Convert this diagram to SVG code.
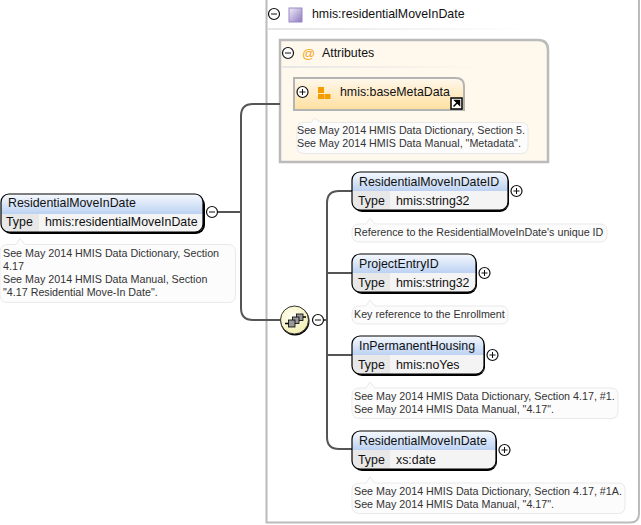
<svg xmlns="http://www.w3.org/2000/svg" width="641" height="525" viewBox="0 0 641 525">
<style>
text{font-family:"Liberation Sans",Arial,sans-serif;font-size:12.37px;fill:#000}
.t{font-size:12.37px;fill:#111}
.d{font-size:10.72px;fill:#333}
.doc{fill:#fcfcfc;stroke:#e9e9e9;stroke-width:1}
.c{fill:none;stroke:#555;stroke-width:2}
.tg{fill:#fff;stroke:#111;stroke-width:1.2}
.pm{stroke:#111;stroke-width:1;fill:none}
.sh{fill:#000}
</style>
<defs>
<linearGradient id="hd" x1="0" y1="0" x2="0" y2="1"><stop offset="0" stop-color="#f6f9fe"/><stop offset="1" stop-color="#bcd2f2"/></linearGradient>
<linearGradient id="ag" x1="0" y1="0" x2="0" y2="1"><stop offset="0" stop-color="#fff8ec"/><stop offset="1" stop-color="#ffdf9f"/></linearGradient>
<linearGradient id="sq" x1="0" y1="0" x2="1" y2="1"><stop offset="0" stop-color="#f2eef9"/><stop offset="1" stop-color="#8c78c0"/></linearGradient>
<linearGradient id="ln" x1="0" y1="0" x2="1" y2="0"><stop offset="0" stop-color="#e6e6e6"/><stop offset="1" stop-color="#e6e6e6" stop-opacity="0"/></linearGradient>
<radialGradient id="seq" cx=".4" cy=".35" r=".7"><stop offset="0" stop-color="#fffef2"/><stop offset="1" stop-color="#f4eeb0"/></radialGradient>
<g id="minus"><circle r="5.5" class="tg"/><path d="M-3 0H3" class="pm"/></g>
<g id="plus"><circle r="5.5" class="tg"/><path d="M-3 0H3M0-3V3" class="pm"/></g>
</defs>

<g id="complex-type">
<path d="M266.500 0V522.500H630Q639 522.500 639 513.500V0" fill="#fff" stroke="#bbb" stroke-width="2"/>
<use href="#minus" x="274" y="14"/>
<rect x="289" y="8" width="13" height="14" fill="url(#sq)" stroke="#9a88c8"/>
<text x="312" y="18" class="t">hmis:residentialMoveInDate</text>
<rect x="268" y="28" width="260" height="2" fill="url(#ln)"/>
</g>

<g id="attributes">
<path d="M280 40H538Q548 40 548 50V162H280Z" fill="#fff8ec" stroke="#bbb" stroke-width="2.500"/>
<use href="#minus" x="288" y="53"/>
<text x="302" y="58" style="font-size:13px;fill:#f5a623">@</text>
<text x="322" y="57" class="t">Attributes</text>
<rect x="282" y="66" width="200" height="2" fill="url(#ln)"/>
</g>

<g id="baseMetaData">
<path d="M294 78H456Q464 78 464 86V110H294Z" fill="url(#ag)" stroke="#b4b4b4" stroke-width="2"/>
<use href="#plus" x="302.500" y="92"/>
<path d="M318 87h6v6h-6zM318 94h6v5h-6zM324.500 94h6v5h-6z" fill="#f59c00"/>
<text x="340" y="96" class="t">hmis:baseMetaData</text>
<rect x="451" y="98" width="11" height="11" fill="#fff" stroke="#000" stroke-width="1.500"/>
<path d="M453.500 106.500L459 101M455 100.500h4.500v4.500z" stroke="#000" stroke-width="1.500" fill="#000"/>
<path d="M304.500 122.500H311L314.500 118L321 122.500H521Q528 122.500 528 129V147Q528 153.500 521 153.500H304.500Q297 153.500 297 147V129Q297 122.500 304.500 122.500Z" class="doc"/>
<text x="297" y="134" class="d">See May 2014 HMIS Data Dictionary, Section 5.</text>
<text x="297" y="147" class="d">See May 2014 HMIS Data Manual, "Metadata".</text>
</g>

<g id="connectors">
<path d="M218 212H241M280 104H253Q241 104 241 116V308Q241 320 253 320H281" class="c"/>
<path d="M323 320H327M352 191H339Q327 191 327 203V437Q327 449 339 449H352M327 273H352M327 355H352" class="c"/>
</g>

<g id="ResidentialMoveInDate">
<rect x="2" y="196" width="203" height="38" rx="9" class="sh"/>
<path d="M9 194H195Q203 194 203 202V214H1V202Q1 194 9 194Z" fill="url(#hd)"/>
<path d="M1 214H39V232H9Q1 232 1 224Z" fill="#e8e8e8"/><path d="M39 214H203V224Q203 232 195 232H39Z" fill="#f4f4f4"/>
<rect x="1" y="194" width="202" height="38" rx="8" fill="none" stroke="#000" stroke-width="1.200"/>
<text x="8" y="207" class="t">ResidentialMoveInDate</text>
<text x="6" y="226" class="t">Type</text>
<text x="45" y="226" class="t">hmis:residentialMoveInDate</text>
<use href="#minus" x="212" y="212"/>
<path d="M8 244.500H16L20 238L25 244.500H228Q235.500 244.500 235.500 252V295Q235.500 302.500 228 302.500H8Q0 302.500 0 295V252Q0 244.500 8 244.500Z" class="doc"/>
<text x="3" y="257" class="d">See May 2014 HMIS Data Dictionary, Section</text>
<text x="3" y="270" class="d">4.17</text>
<text x="3" y="283" class="d">See May 2014 HMIS Data Manual, Section</text>
<text x="3" y="296" class="d">"4.17 Residential Move-In Date".</text>
</g>

<g id="sequence">
<circle cx="295" cy="321" r="14.500" fill="#000"/>
<circle cx="294.500" cy="320" r="14" fill="url(#seq)" stroke="#333" stroke-width="1"/>
<path d="M285 323.500H289M303 317H306" stroke="#000" stroke-width="1.500"/>
<rect x="296.500" y="314" width="6.500" height="6.500" fill="#999" stroke="#000" stroke-width=".8"/>
<rect x="292.500" y="317" width="6.500" height="6.500" fill="#999" stroke="#000" stroke-width=".8"/>
<rect x="288.500" y="320" width="6.500" height="7" fill="#999" stroke="#000" stroke-width=".8"/>
<use href="#minus" x="318" y="320"/>
</g>

<g id="ResidentialMoveInDateID">
<rect x="353" y="174" width="156" height="38" rx="9" class="sh"/>
<path d="M360 172H500Q508 172 508 180V191H352V180Q352 172 360 172Z" fill="url(#hd)"/>
<path d="M352 191H390V210H360Q352 210 352 202Z" fill="#e8e8e8"/><path d="M390 191H508V202Q508 210 500 210H390Z" fill="#f4f4f4"/>
<rect x="352" y="172" width="156" height="38" rx="8" fill="none" stroke="#000" stroke-width="1.200"/>
<text x="359" y="186" class="t">ResidentialMoveInDateID</text>
<text x="358" y="205" class="t">Type</text>
<text x="396" y="205" class="t">hmis:string32</text>
<use href="#plus" x="516.500" y="191"/>
<path d="M360 224H366L370 218L375 224H600Q607 224 607 231V235Q607 242 600 242H360Q352 242 352 235V231Q352 224 360 224Z" class="doc"/>
<text x="354" y="236" class="d">Reference to the ResidentialMoveInDate's unique ID</text>
</g>

<g id="ProjectEntryID">
<rect x="353" y="256" width="124" height="38" rx="9" class="sh"/>
<path d="M360 254H468Q476 254 476 262V273H352V262Q352 254 360 254Z" fill="url(#hd)"/>
<path d="M352 273H390V292H360Q352 292 352 284Z" fill="#e8e8e8"/><path d="M390 273H476V284Q476 292 468 292H390Z" fill="#f4f4f4"/>
<rect x="352" y="254" width="124" height="38" rx="8" fill="none" stroke="#000" stroke-width="1.200"/>
<text x="359" y="268" class="t">ProjectEntryID</text>
<text x="358" y="287" class="t">Type</text>
<text x="396" y="287" class="t">hmis:string32</text>
<use href="#plus" x="484.500" y="273"/>
<path d="M360 306H366L370 300L375 306H501Q508 306 508 313V317Q508 324 501 324H360Q352 324 352 317V313Q352 306 360 306Z" class="doc"/>
<text x="354" y="318" class="d">Key reference to the Enrollment</text>
</g>

<g id="InPermanentHousing">
<rect x="353" y="338" width="132" height="38" rx="9" class="sh"/>
<path d="M360 336H476Q484 336 484 344V355H352V344Q352 336 360 336Z" fill="url(#hd)"/>
<path d="M352 355H390V374H360Q352 374 352 366Z" fill="#e8e8e8"/><path d="M390 355H484V366Q484 374 476 374H390Z" fill="#f4f4f4"/>
<rect x="352" y="336" width="132" height="38" rx="8" fill="none" stroke="#000" stroke-width="1.200"/>
<text x="359" y="350" class="t">InPermanentHousing</text>
<text x="358" y="369" class="t">Type</text>
<text x="396" y="369" class="t">hmis:noYes</text>
<use href="#plus" x="492.500" y="355"/>
<path d="M360 388H366L370 382L375 388H611Q618 388 618 395V411Q618 418.500 611 418.500H360Q352 418.500 352 411V395Q352 388 360 388Z" class="doc"/>
<text x="354" y="400" class="d">See May 2014 HMIS Data Dictionary, Section 4.17, #1.</text>
<text x="354" y="413" class="d">See May 2014 HMIS Data Manual, "4.17".</text>
</g>

<g id="ResidentialMoveInDate2">
<rect x="353" y="433" width="144" height="38" rx="9" class="sh"/>
<path d="M360 431H488Q496 431 496 439V450H352V439Q352 431 360 431Z" fill="url(#hd)"/>
<path d="M352 450H390V469H360Q352 469 352 461Z" fill="#e8e8e8"/><path d="M390 450H496V461Q496 469 488 469H390Z" fill="#f4f4f4"/>
<rect x="352" y="431" width="144" height="38" rx="8" fill="none" stroke="#000" stroke-width="1.200"/>
<text x="359" y="445" class="t">ResidentialMoveInDate</text>
<text x="358" y="464" class="t">Type</text>
<text x="396" y="464" class="t">xs:date</text>
<use href="#plus" x="504.500" y="450"/>
<path d="M360 483H366L370 477L375 483H618Q625 483 625 490V506Q625 513.500 618 513.500H360Q352 513.500 352 506V490Q352 483 360 483Z" class="doc"/>
<text x="354" y="495" class="d">See May 2014 HMIS Data Dictionary, Section 4.17, #1A.</text>
<text x="354" y="508" class="d">See May 2014 HMIS Data Manual, "4.17".</text>
</g>
</svg>
